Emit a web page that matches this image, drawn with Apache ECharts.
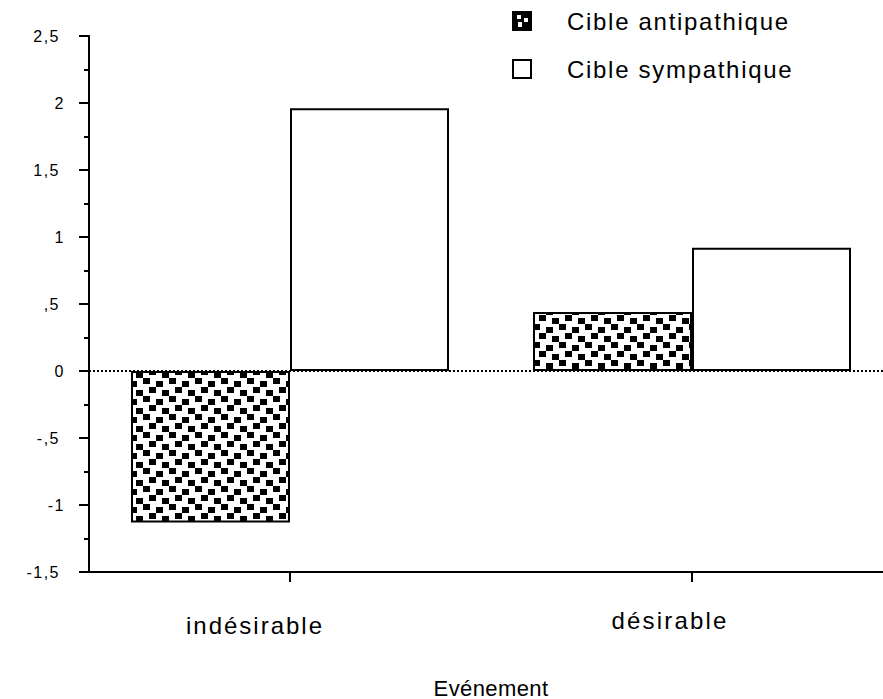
<!DOCTYPE html>
<html>
<head>
<meta charset="utf-8">
<script src="https://cdn.jsdelivr.net/npm/echarts@6/dist/echarts.min.js"></script>
<style>
html,body{margin:0;padding:0;background:#fff;overflow:hidden;}
#chart{width:883px;height:699px;}
</style>
</head>
<body>
<div id="chart"></div>
<script>
var categories = ['indésirable', 'désirable'];
var seriesNames = ['Cible antipathique', 'Cible sympathique'];
var antipathique = [-1.13, 0.44];
var sympathique = [1.96, 0.92];
var yTickValues = [-1.5, -1, -0.5, 0, 0.5, 1, 1.5, 2, 2.5];
var yTickLabels = ['-1,5', '-1', '-,5', '0', ',5', '1', '1,5', '2', '2,5'];
var xAxisTitle = 'Evénement';

function makePattern() {
  var c = document.createElement('canvas');
  c.width = 26; c.height = 18;
  var g = c.getContext('2d');
  g.fillStyle = '#fff'; g.fillRect(0, 0, 26, 18);
  g.fillStyle = '#000';
  g.fillRect(0, 3, 7, 6);
  g.fillRect(13, 0, 7, 6);
  g.fillRect(6, 12, 7, 6);
  g.fillRect(19, 9, 7, 6);
  return c.toDataURL();
}
function makeLegendPattern() {
  var c = document.createElement('canvas');
  c.width = 18; c.height = 18;
  var g = c.getContext('2d');
  g.fillStyle = '#000'; g.fillRect(0, 0, 18, 18);
  g.fillStyle = '#fff';
  g.fillRect(4, 3, 4, 4);
  g.fillRect(11, 6, 4, 4);
  g.fillRect(5, 10, 4, 5);
  return c.toDataURL();
}
var pat = makePattern();
var legPat = makeLegendPattern();

var chart = echarts.init(document.getElementById('chart'), null, {renderer: 'svg', width: 883, height: 699});
var font = 'Liberation Sans, Arial, sans-serif';
chart.setOption({
  animation: false,
  backgroundColor: '#fff',
  textStyle: {fontFamily: font, color: '#000'},
  legend: {
    orient: 'vertical',
    left: 512,
    top: 9,
    padding: 0,
    itemWidth: 18,
    itemHeight: 18,
    itemGap: 24,
    icon: 'rect',
    textStyle: {fontSize: 24, lineHeight: 24, color: '#000', fontFamily: font, padding: [0, 0, 0, 31]},
    data: [
      {name: seriesNames[0], itemStyle: {color: {image: legPat, repeat: 'repeat'}, borderColor: '#000', borderWidth: 2}},
      {name: seriesNames[1], itemStyle: {color: '#fff', borderColor: '#000', borderWidth: 2}}
    ]
  },
  grid: {left: 89, top: 36, width: 804, height: 536, containLabel: false, outerBoundsMode: 'none'},
  xAxis: {
    type: 'category',
    data: [
      {value: categories[0], textStyle: {padding: [5, 70, 0, 0]}},
      {value: categories[1], textStyle: {padding: [0, 44, 0, 0]}}
    ],
    axisLine: {onZero: false, lineStyle: {color: '#000', width: 2}},
    axisTick: {show: true, alignWithLabel: true, length: 10, lineStyle: {color: '#000', width: 2}},
    axisLabel: {fontSize: 24, color: '#000', margin: 36, fontFamily: font},
    name: xAxisTitle,
    nameLocation: 'middle',
    nameGap: 105,
    nameTextStyle: {fontSize: 22, color: '#000', fontFamily: font},
    splitLine: {show: false}
  },
  yAxis: {
    type: 'value',
    min: -1.5,
    max: 2.5,
    interval: 0.5,
    axisLine: {show: true, lineStyle: {color: '#000', width: 2}},
    axisTick: {show: true, length: 10, lineStyle: {color: '#000', width: 2}},
    minorTick: {show: true, splitNumber: 2, length: 5, lineStyle: {color: '#000', width: 2}},
    splitLine: {show: false},
    axisLabel: {
      fontSize: 16, color: '#000', margin: 24, fontFamily: font,
      formatter: function (v) {
        for (var i = 0; i < yTickValues.length; i++) {
          if (Math.abs(yTickValues[i] - v) < 1e-9) {
            var s = yTickLabels[i];
            return (s.indexOf(',') >= 0 ? '{d|' : '{n|') + s + '}';
          }
        }
        return '';
      },
      rich: {
        d: {fontSize: 16, fontFamily: font, color: '#000', padding: [0, 5, 0, 0]},
        n: {fontSize: 16, fontFamily: font, color: '#000'}
      }
    }
  },
  series: [
    {
      name: seriesNames[0],
      type: 'bar',
      data: antipathique,
      barWidth: 159,
      barGap: '0%',
      itemStyle: {color: {image: pat, repeat: 'repeat'}, borderColor: '#000', borderWidth: 2}
    },
    {
      name: seriesNames[1],
      type: 'bar',
      data: sympathique,
      barWidth: 159,
      barGap: '0%',
      itemStyle: {color: '#fff', borderColor: '#000', borderWidth: 2},
      markLine: {
        silent: true,
        symbol: 'none',
        label: {show: false},
        lineStyle: {color: '#000', type: [2, 2], width: 2},
        data: [{yAxis: 0}]
      }
    }
  ]
});

function applySpacing() {
  var spacing = {};
  spacing[categories[0]] = '2px';
  spacing[categories[1]] = '2.2px';
  seriesNames.forEach(function (s) { spacing[s] = '1.7px'; });
  yTickLabels.forEach(function (s) { spacing[s] = '1.5px'; });
  spacing[xAxisTitle] = '0.4px';
  var texts = document.querySelectorAll('#chart text');
  for (var i = 0; i < texts.length; i++) {
    var t = texts[i];
    var s = spacing[t.textContent];
    if (s) t.style.letterSpacing = s;
  }
}
chart.on('finished', applySpacing);
setTimeout(applySpacing, 50);
</script>
</body>
</html>
